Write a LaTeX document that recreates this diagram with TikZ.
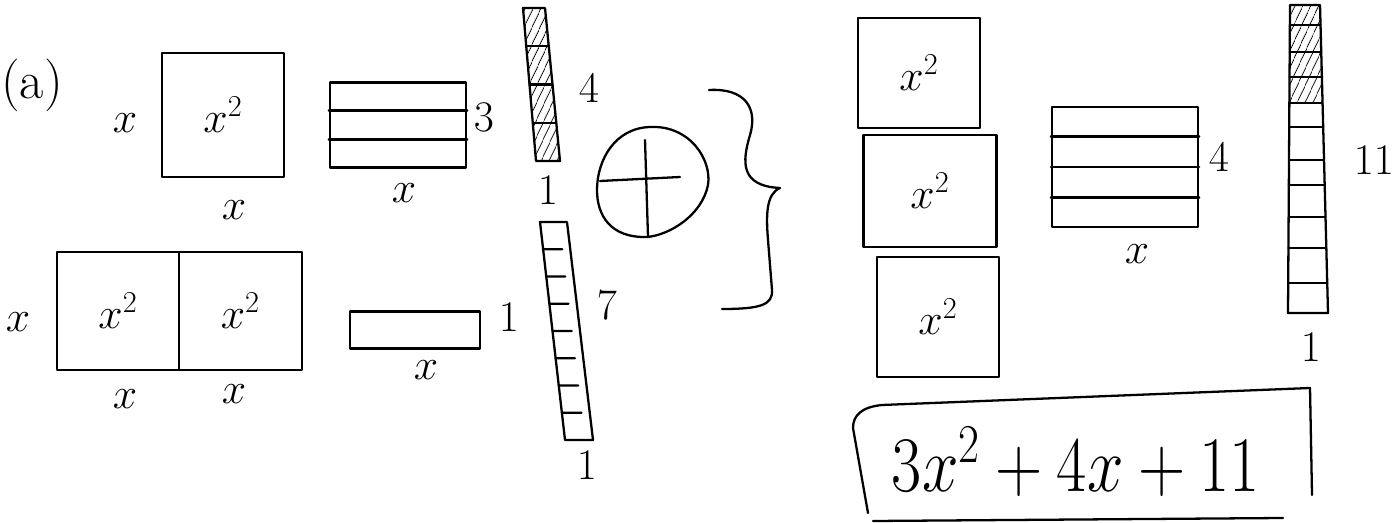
\documentclass[tikz,border=0pt]{standalone}
\usepackage{graphicx}
\usetikzlibrary{calc,patterns.meta}
\begin{document}
\begin{tikzpicture}[x=0.02cm, y=-0.02cm, line width=1.3pt, line cap=round, line join=round,
  lbl/.style={font=\fontsize{24}{28}\selectfont, inner sep=0pt},
  sq/.style={draw, outer sep=0pt, minimum width=2.45cm, minimum height=2.35cm, font=\fontsize{26}{30}\selectfont},
  strip/.style={draw, inner sep=0pt},
  hatch/.style={pattern={Lines[angle=65,distance=4pt,line width=0.6pt]}}]
\useasboundingbox (0,0) rectangle (1395,523);
% row 1
\node[lbl, font=\fontsize{30}{34}\selectfont] (lab) at (32,85) {(a)};
\node[sq, minimum height=2.48cm] (sqA) at (223,115) {$x^2$};
\node[lbl] (xA) at (125,123) {$x$};
\node[lbl] (xB) at (234,210) {$x$};
\node[strip, minimum width=2.72cm, minimum height=1.7cm] (stA) at (398,125) {};
\foreach \t in {1,2}
  \draw ($(stA.north west)!\t/3!(stA.south west)$) -- ($(stA.north east)!\t/3!(stA.south east)$);
\node[lbl] (three) at (484,117) {$3$};
\node[lbl] (xC) at (404,193) {$x$};
% bar of 4
\coordinate (a1) at (523,8); \coordinate (a2) at (545,8);
\coordinate (a3) at (560,161); \coordinate (a4) at (536,161);
\fill[hatch] (a1) -- (a2) -- (a3) -- (a4) -- cycle;
\draw (a1) -- (a2) -- (a3) -- (a4) -- cycle;
\foreach \t in {0.25,0.5,0.75}
  \draw ($(a1)!\t!(a4)$) -- ($(a2)!\t!(a3)$);
\node[lbl] (four) at (589,88) {$4$};
\node[lbl] (oneA) at (548,190) {$1$};
% plus
\draw (650,127) .. controls (690,125) and (712,160) .. (708,185)
  .. controls (702,215) and (670,235) .. (647,237)
  .. controls (610,238) and (597,215) .. (597,190)
  .. controls (597,160) and (615,128) .. (650,127);
\draw (600,181) -- (680,177);
\draw (645,140) -- (648,237);
% brace
\draw (709,90) .. controls (745,88) and (758,108) .. (750,135)
  .. controls (742,162) and (740,186) .. (780,188)
  .. controls (766,194) and (766,215) .. (768,240) -- (772,290)
  .. controls (773,305) and (760,309) .. (722,309);
% row 2
\node[lbl] (xD) at (18,322) {$x$};
\node[sq] (sqB) at (118,311) {$x^2$};
\node[sq, anchor=west] (sqC) at (sqB.east) {$x^2$};
\node[lbl] (xE) at (125,399) {$x$};
\node[lbl] (xF) at (234,394) {$x$};
\node[strip, minimum width=2.6cm, minimum height=0.74cm] (stB) at (415,330) {};
\node[lbl] (oneB) at (509,317) {$1$};
\node[lbl] (xG) at (426,370) {$x$};
% bar of 7
\coordinate (b1) at (540,222); \coordinate (b2) at (567,222);
\coordinate (b3) at (593,440); \coordinate (b4) at (565,440);
\draw (b1) -- (b2) -- (b3) -- (b4) -- cycle;
\foreach \k in {1,...,7} {
  \coordinate (l) at ($(b1)!\k/8!(b4)$);
  \coordinate (r) at ($(b2)!\k/8!(b3)$);
  \draw (l) -- ($(l)!0.7!(r)$);
}
\node[lbl] (seven) at (607,305) {$7$};
\node[lbl] (oneC) at (587,465) {$1$};
% right column
\node[sq, minimum height=2.2cm] (sqD) at (919,73) {$x^2$};
\node[sq, minimum width=2.66cm, minimum height=2.24cm] (sqE) at (930,191) {$x^2$};
\node[sq, minimum height=2.4cm] (sqF) at (938,317) {$x^2$};
\node[strip, minimum width=2.92cm, minimum height=2.4cm] (stC) at (1125,167) {};
\foreach \t in {1,2,3}
  \draw ($(stC.north west)!\t/4!(stC.south west)$) -- ($(stC.north east)!\t/4!(stC.south east)$);
\node[lbl] (fourB) at (1219,157) {$4$};
\node[lbl] (xH) at (1137,254) {$x$};
% bar of 11
\coordinate (c1) at (1290,5); \coordinate (c2) at (1320,5);
\coordinate (c3) at (1328,313); \coordinate (c4) at (1288,313);
\fill[hatch] (c1) -- (c2) -- ($(c2)!{98/308}!(c3)$) -- ($(c1)!{98/308}!(c4)$) -- cycle;
\draw (c1) -- (c2) -- (c3) -- (c4) -- cycle;
\foreach \y in {25,52,77,103,127,160,185,217,248,283}
  \draw ($(c1)!{(\y-5)/308}!(c4)$) -- ($(c2)!{(\y-5)/308}!(c3)$);
\node[lbl] (eleven) at (1374,160) {$11$};
\node[lbl] (oneD) at (1311,347) {$1$};
% result
\node[font=\fontsize{24}{28}\selectfont] (res) at (1076,462) {\scalebox{1.5}[1.8]{$3x^2+4x+11$}};
\draw (1312,495) -- (1310,388) -- (882,405) .. controls (862,407) and (853,415) .. (853,428) -- (868,513);
\draw (873,521) -- (1283,518);
\end{tikzpicture}
\end{document}
